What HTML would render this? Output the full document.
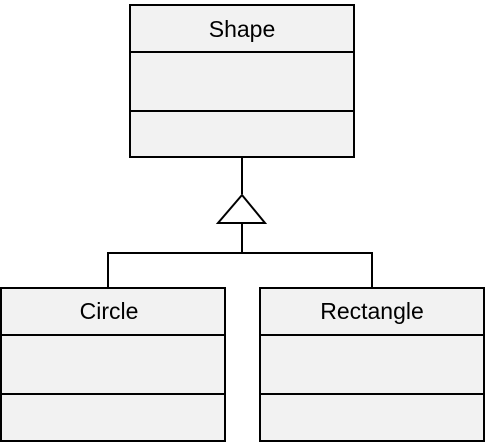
<!DOCTYPE html>
<html><head><style>html,body{margin:0;padding:0;background:#fff}svg{display:block}</style></head>
<body>
<svg width="486" height="443" viewBox="0 0 486 443" xmlns="http://www.w3.org/2000/svg">
<g fill="#f2f2f2" stroke="#000" stroke-width="2">
<rect x="130" y="5" width="224" height="152"/>
<line x1="130" y1="52" x2="354" y2="52"/>
<line x1="130" y1="111" x2="354" y2="111"/>
<rect x="1" y="288" width="224" height="153"/>
<line x1="1" y1="335" x2="225" y2="335"/>
<line x1="1" y1="394" x2="225" y2="394"/>
<rect x="260" y="288" width="224" height="153"/>
<line x1="260" y1="335" x2="484" y2="335"/>
<line x1="260" y1="394" x2="484" y2="394"/>
</g>
<g fill="none" stroke="#000" stroke-width="2">
<line x1="242" y1="157" x2="242" y2="194"/>
<polygon points="242,195 218,223 265,223" fill="#fff"/>
<line x1="242" y1="223" x2="242" y2="253"/>
<polyline points="108,288 108,253 372,253 372,288"/>
</g>
<g font-family="'Liberation Sans',sans-serif" font-size="23" text-anchor="middle" fill="#000">
<text x="242" y="37">Shape</text>
<text x="109" y="319">Circle</text>
<text x="372" y="319">Rectangle</text>
</g>
</svg>
</body></html>
